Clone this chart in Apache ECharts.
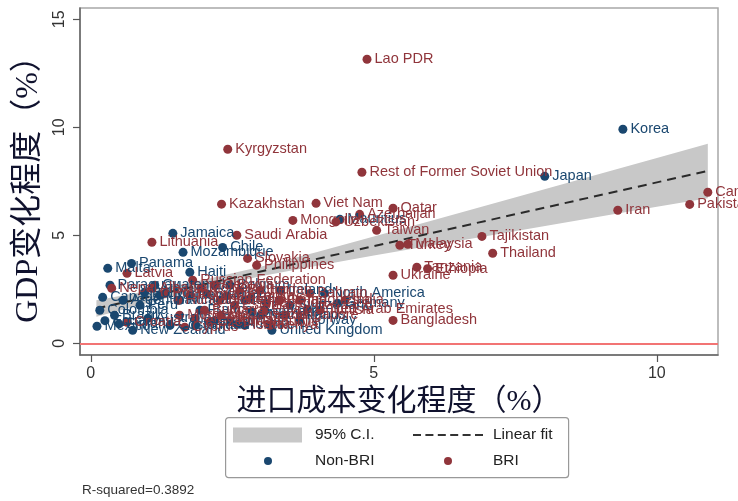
<!DOCTYPE html>
<html>
<head>
<meta charset="utf-8">
<script src="https://cdn.jsdelivr.net/npm/echarts@6/dist/echarts.min.js"></script>
<style>
  html, body { margin: 0; padding: 0; background: #fff; }
  #chart { width: 738px; height: 501px; }
</style>
</head>
<body>
<div id="chart"></div>
<script>
// Non-BRI economies: import-cost change (%) vs GDP change (%)
const nonBriNames = ['Korea', 'Japan', 'Mauritius', 'Jamaica', 'Chile', 'Mozambique', 'Panama', 'Malta',
  'New Zealand', 'Mexico', 'United Kingdom', 'North America', 'Canada', 'Colombia', 'Brazil', 'Argentina',
  'Peru', 'Australia', 'Uruguay', 'Costa Rica', 'Haiti', 'Germany', 'France', 'Spain', 'Italy',
  'Netherlands', 'Belgium', 'Switzerland', 'Guatemala', 'Paraguay', 'Nicaragua', 'Norway', 'Sweden',
  'Denmark', 'Finland', 'Ecuador', 'Bolivia', 'Ireland', 'Austria', 'Iceland'];
const nonBriX = [9.40, 8.02, 4.40, 1.45, 2.33, 1.63, 0.72, 0.30,
  0.74, 0.11, 3.20, 4.13, 0.21, 0.16, 0.42, 0.57,
  0.87, 1.01, 1.22, 1.40, 1.75, 4.36, 1.93, 2.19, 2.72,
  3.00, 2.46, 3.52, 1.13, 0.34, 1.57, 3.69, 2.05,
  2.85, 0.50, 0.25, 0.95, 3.35, 2.60, 1.85];
const nonBriY = [9.91, 7.73, 5.74, 5.09, 4.44, 4.21, 3.70, 3.47,
  0.60, 0.79, 0.60, 2.31, 2.13, 1.53, 1.30, 1.99,
  1.76, 1.16, 2.22, 0.83, 3.29, 1.85, 1.53, 1.06, 1.99,
  1.30, 2.69, 1.76, 2.69, 2.69, 1.99, 1.06, 2.30,
  1.45, 0.90, 1.05, 2.35, 2.45, 0.90, 0.85];

// BRI economies
const briNames = ['Lao PDR', 'Kyrgyzstan', 'Rest of Former Soviet Union', 'Kazakhstan', 'Viet Nam', 'Qatar',
  'Azerbaijan', 'Mongolia', 'Uzbekistan', 'Taiwan', 'Turkey', 'Malaysia', 'Tajikistan', 'Thailand', 'Iran',
  'Pakistan', 'Cambodia', 'Ukraine', 'Tanzania', 'Ethiopia', 'Bangladesh', 'Saudi Arabia', 'Lithuania',
  'Slovakia', 'Philippines', 'Latvia', 'Russian Federation', 'Nepal', 'Albania', 'Croatia', 'Bahrain',
  'United Arab Emirates', 'Poland', 'Hungary', 'Romania', 'Bulgaria', 'Czech Republic', 'Slovenia',
  'Estonia', 'Belarus', 'Egypt', 'Oman', 'Kuwait', 'Israel', 'Greece', 'Jordan', 'Singapore', 'Indonesia',
  'Georgia', 'Brunei', 'Kenya', 'Morocco', 'Tunisia', 'India', 'Cyprus', 'Madagascar', 'Rwanda',
  'Sri Lanka', 'Moldova'];
const briX = [4.88, 2.42, 4.79, 2.31, 3.98, 5.34,
  4.75, 3.57, 4.33, 5.05, 5.46, 5.60, 6.91, 7.10, 9.31,
  10.58, 10.90, 5.34, 5.76, 5.95, 5.34, 2.58, 1.08,
  2.77, 2.93, 0.64, 1.80, 0.37, 1.08, 0.64, 3.87,
  3.83, 1.31, 1.54, 1.75, 2.01, 2.10, 2.28,
  2.54, 2.81, 3.07, 3.34, 2.46, 2.72, 1.84, 2.99, 3.43, 3.69,
  2.19, 2.63, 3.16, 1.57, 4.05, 4.49, 1.66, 2.30, 3.10,
  2.40, 1.95];
const briY = [13.15, 8.98, 7.92, 6.44, 6.48, 6.25,
  5.97, 5.69, 5.62, 5.23, 4.54, 4.58, 4.95, 4.17, 6.16,
  6.43, 6.99, 3.15, 3.52, 3.45, 1.06, 5.00, 4.68,
  3.93, 3.61, 3.24, 2.92, 2.55, 2.55, 0.97, 2.31,
  1.57, 2.31, 1.99, 2.22, 1.53, 0.97, 1.99,
  1.76, 2.08, 1.53, 1.99, 1.06, 0.83, 1.16, 2.45, 1.30, 1.99,
  2.69, 2.45, 0.83, 1.30, 1.53, 1.99, 0.75, 1.30, 1.85,
  2.20, 2.55];

// Linear fit end points and its 95% confidence band
const fitX = [0.10, 10.90];
const fitY = [1.61, 7.98];
const ciX    = [0.10, 1.00, 2.00, 3.00, 4.00, 5.00, 6.00, 7.00, 8.00, 9.00, 10.00, 10.90];
const ciLow  = [1.23, 1.87, 2.53, 3.10, 3.59, 4.06, 4.52, 4.97, 5.42, 5.87, 6.32, 6.72];
const ciHigh = [1.99, 2.42, 2.94, 3.54, 4.23, 4.94, 5.66, 6.39, 7.12, 7.85, 8.58, 9.24];

// Axis tick labels
const xTicks = [0, 5, 10];
const yTicks = [0, 5, 10, 15];

const BLUE = '#1a476f';
const RED = '#90353b';
const SANS = "'Liberation Sans', Arial, sans-serif";
const TITLE_FONT = "'Liberation Serif', 'Noto Sans CJK SC', serif";
// six short dashes used as the key for the fitted line
const DASH_ICON = 'path://M0,0H8V2H0Z M12.4,0H20.4V2H12.4Z M24.8,0H32.8V2H24.8Z ' +
  'M37.2,0H45.2V2H37.2Z M49.6,0H57.6V2H49.6Z M62,0H70V2H62Z';

const chart = echarts.init(document.getElementById('chart'), null, { renderer: 'canvas' });

function points(names, xs, ys) {
  return names.map((n, i) => ({ name: n, value: [xs[i], ys[i]] }));
}

function scatterSeries(name, color, data) {
  return {
    name: name,
    type: 'scatter',
    data: data,
    symbol: 'circle',
    symbolSize: 9,
    itemStyle: { color: color, opacity: 1 },
    label: {
      show: true,
      position: 'right',
      distance: 3,
      formatter: '{b}',
      color: color,
      fontSize: 14.5,
      fontFamily: SANS
    },
    labelLayout: { hideOverlap: false },
    emphasis: { disabled: true },
    z: 4
  };
}

const legendText = (pad) => ({ fontSize: 15.5, color: '#222', fontFamily: SANS, padding: [0, 0, 0, pad] });

const option = {
  animation: false,
  backgroundColor: '#ffffff',
  title: {
    text: 'R-squared=0.3892',
    left: 82, top: 483, padding: 0,
    textStyle: { fontSize: 13.5, fontWeight: 'normal', color: '#333', fontFamily: SANS }
  },
  grid: {
    left: 80, top: 8, right: 20, bottom: 146,
    show: true, borderColor: '#a8a8a8', borderWidth: 1.5,
    outerBoundsMode: 'none'
  },
  xAxis: {
    type: 'value', min: -0.19, max: 11.08,
    name: '进口成本变化程度（%）',
    nameLocation: 'middle', nameGap: 26,
    nameTextStyle: { fontSize: 30, fontFamily: TITLE_FONT, color: '#10122e' },
    axisLine: { show: true, onZero: false, lineStyle: { color: '#666', width: 1.5 } },
    axisTick: { show: true, length: 7, customValues: xTicks, lineStyle: { color: '#555', width: 1.2 } },
    axisLabel: { customValues: xTicks, margin: 11, fontSize: 16, color: '#333', fontFamily: SANS },
    splitLine: { show: false }
  },
  yAxis: {
    type: 'value', min: -0.54, max: 15.52,
    name: 'GDP变化程度（%）',
    nameLocation: 'middle', nameGap: 33, nameRotate: 90,
    nameTextStyle: { fontSize: 32, fontFamily: TITLE_FONT, color: '#10122e' },
    axisLine: { show: true, onZero: false, lineStyle: { color: '#666', width: 1.5 } },
    axisTick: { show: true, length: 7, customValues: yTicks, lineStyle: { color: '#555', width: 1.2 } },
    axisLabel: { customValues: yTicks, rotate: 90, margin: 12, fontSize: 16, color: '#333', fontFamily: SANS },
    splitLine: { show: false }
  },
  legend: [
    { data: [{ name: '95% C.I.', icon: 'rect' }], left: 233, top: 427, padding: 0,
      itemWidth: 69, itemHeight: 15, selectedMode: false, textStyle: legendText(8) },
    { data: [{ name: 'Linear fit', icon: DASH_ICON, itemStyle: { color: '#333' } }], left: 413, top: 427, padding: 0,
      itemWidth: 70, itemHeight: 2, selectedMode: false, textStyle: legendText(5) },
    { data: [{ name: 'Non-BRI', icon: 'circle' }], left: 264, top: 453, padding: 0,
      itemWidth: 8, itemHeight: 8, selectedMode: false, textStyle: legendText(38) },
    { data: [{ name: 'BRI', icon: 'circle' }], left: 444, top: 453, padding: 0,
      itemWidth: 8, itemHeight: 8, selectedMode: false, textStyle: legendText(36) }
  ],
  graphic: [
    { type: 'rect', left: 225, top: 417, z: 0,
      shape: { width: 343, height: 60, r: 3 },
      style: { fill: 'transparent', stroke: '#999', lineWidth: 1.2 } }
  ],
  series: [
    {
      name: '95% C.I.',
      type: 'custom',
      itemStyle: { color: '#c8c8c8' },
      data: [[ciX[0], ciLow[0]]],
      renderItem: function (params, api) {
        const upper = ciX.map((x, i) => api.coord([x, ciHigh[i]]));
        const lower = ciX.map((x, i) => api.coord([x, ciLow[i]])).reverse();
        return {
          type: 'polygon',
          shape: { points: upper.concat(lower) },
          style: { fill: '#c8c8c8', stroke: 'none' }
        };
      },
      silent: true,
      z: 1
    },
    {
      name: 'Linear fit',
      type: 'line',
      data: fitX.map((x, i) => [x, fitY[i]]),
      symbol: 'none',
      lineStyle: { color: '#2a2a2a', width: 2, type: [9, 6] },
      itemStyle: { color: '#2a2a2a' },
      silent: true,
      z: 2,
      markLine: {
        silent: true,
        symbol: 'none',
        label: { show: false },
        lineStyle: { color: '#f27474', width: 2, type: 'solid' },
        data: [{ yAxis: 0 }]
      }
    },
    scatterSeries('Non-BRI', BLUE, points(nonBriNames, nonBriX, nonBriY)),
    scatterSeries('BRI', RED, points(briNames, briX, briY))
  ]
};

chart.setOption(option);
</script>
</body>
</html>
